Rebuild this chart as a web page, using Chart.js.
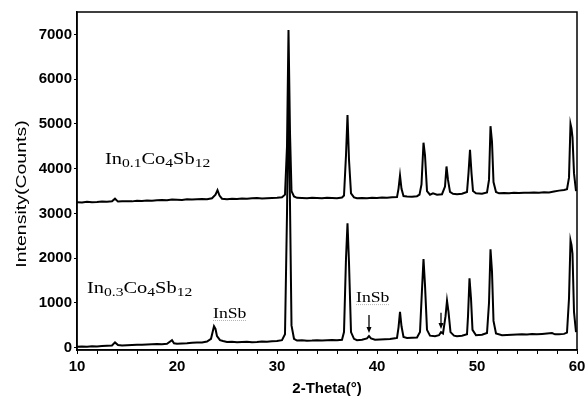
<!DOCTYPE html>
<html>
<head>
<meta charset="utf-8">
<script src="https://cdn.jsdelivr.net/npm/chart.js@4.4.1/dist/chart.umd.min.js"></script>
<style>
html,body{margin:0;padding:0;background:#fff;}
#wrap{width:586px;height:398px;position:relative;}
</style>
</head>
<body>
<div id="wrap"><canvas id="c"></canvas></div>
<script>
// ---- data ----
const thetaA = [10.0,10.5,11.0,11.5,12.0,12.5,13.0,13.5,13.8,14.1,14.5,15.0,15.5,16.0,16.5,17.0,17.5,18.0,18.5,19.0,19.5,20.0,20.5,21.0,21.5,22.0,22.5,23.0,23.5,23.85,24.05,24.25,24.5,25.0,25.5,26.0,26.5,27.0,27.5,28.0,28.5,29.0,29.5,30.0,30.5,30.8,31.0,31.15,31.3,31.45,31.7,32.0,32.5,33.0,33.5,34.0,34.5,35.0,35.5,36.0,36.5,36.7,36.9,37.05,37.2,37.4,37.7,38.0,38.5,39.0,39.5,40.0,40.5,41.0,41.5,42.0,42.15,42.3,42.45,42.65,43.0,43.5,44.0,44.25,44.45,44.65,44.8,45.0,45.3,45.6,46.0,46.5,46.8,46.95,47.1,47.3,47.6,48.0,48.5,49.0,49.15,49.3,49.45,49.6,49.9,50.5,51.0,51.2,51.35,51.5,51.65,51.9,52.2,52.7,53.2,53.7,54.2,54.7,55.2,55.7,56.2,56.7,57.2,57.7,58.2,58.7,59.0,59.2,59.35,59.45,59.55,59.7,59.9];
const countsA = [3250,3245,3260,3250,3255,3265,3260,3270,3330,3265,3270,3275,3270,3285,3280,3290,3285,3295,3300,3295,3310,3305,3300,3315,3310,3320,3325,3320,3340,3420,3520,3400,3330,3320,3330,3325,3335,3330,3340,3345,3335,3340,3345,3350,3360,3420,4500,7100,4800,3500,3380,3350,3345,3340,3350,3345,3340,3350,3345,3340,3355,3400,4300,5200,4200,3450,3360,3340,3345,3340,3350,3345,3355,3350,3360,3365,3550,3850,3550,3390,3380,3375,3385,3420,3650,4580,4300,3500,3420,3450,3420,3430,3600,4050,3750,3480,3440,3430,3440,3480,3900,4420,3900,3500,3450,3440,3470,3750,4950,4600,3700,3480,3450,3455,3450,3460,3455,3465,3460,3470,3465,3475,3470,3490,3510,3525,3540,3800,5000,4900,4700,3900,3500];
const thetaB = [10.0,10.5,11.0,11.5,12.0,12.5,13.0,13.5,13.8,14.1,14.5,15.0,15.5,16.0,16.5,17.0,17.5,18.0,18.5,19.0,19.5,19.7,20.0,20.5,21.0,21.5,22.0,22.5,23.0,23.4,23.7,23.85,24.0,24.3,24.6,25.0,25.5,26.0,26.5,27.0,27.5,28.0,28.5,29.0,29.5,30.0,30.5,30.8,31.0,31.15,31.3,31.45,31.7,32.0,32.5,33.0,33.5,34.0,34.5,35.0,35.5,36.0,36.5,36.7,36.9,37.05,37.2,37.4,37.7,38.0,38.5,39.0,39.2,39.4,39.8,40.3,40.8,41.3,41.8,42.0,42.15,42.3,42.45,42.65,43.0,43.5,44.0,44.3,44.5,44.65,44.8,45.0,45.3,45.8,46.2,46.4,46.6,46.85,47.0,47.15,47.35,47.7,48.0,48.5,49.0,49.1,49.25,49.4,49.55,49.9,50.5,51.0,51.2,51.35,51.5,51.65,51.9,52.5,53.0,53.5,54.0,54.5,55.0,55.5,56.0,56.5,57.0,57.5,57.8,58.2,58.7,59.0,59.2,59.35,59.45,59.55,59.7,59.9];
const countsB = [20,30,25,35,30,40,45,50,120,60,50,55,60,65,70,75,80,85,80,90,170,100,90,95,100,110,115,120,140,200,480,420,260,170,150,130,135,125,130,135,125,130,140,135,145,150,170,300,3000,5800,3200,500,200,160,165,155,160,170,165,170,175,170,180,350,2000,2780,1900,350,200,170,180,210,260,210,180,185,190,195,210,220,450,800,480,240,220,225,230,350,1300,1980,1400,400,270,260,280,350,320,700,1050,800,350,270,260,270,300,700,1550,1100,400,280,290,330,1000,2200,1700,600,320,280,285,290,295,300,295,305,300,310,320,330,300,300,310,340,1100,2400,2300,2100,800,350];
const xTicks = [10,12,14,16,18,20,22,24,26,28,30,32,34,36,38,40,42,44,46,48,50,52,54,56,58,60];
const yTicks = [0,1000,2000,3000,4000,5000,6000,7000];
const labelA = ['In','0.1','Co','4','Sb','12'];
const labelB = ['In','0.3','Co','4','Sb','12'];
const phaseLabel = 'InSb';
const phasePos = [[23.6,665],[37.9,1020]];
const arrowPos = [[39.2,730,330],[46.4,780,420]];
const labelAPos = [12.8,4105];
const labelBPos = [11.0,1230];
const xTitle = '2-Theta(°)';
const yTitle = 'Intensity(Counts)';

const toXY = (xs, ys) => xs.map((v,i)=>({x:v,y:ys[i]}));

function drawFormula(ctx, parts, px, py, mainSize, subSize, stretch){
  ctx.save();
  ctx.translate(px, py);
  ctx.scale(stretch, 1);
  ctx.fillStyle = '#000';
  ctx.textBaseline = 'alphabetic';
  ctx.textAlign = 'left';
  let cx = 0;
  parts.forEach((p,i)=>{
    const sub = i % 2 === 1;
    ctx.font = (sub ? subSize : mainSize) + 'px "Liberation Serif", "Times New Roman", serif';
    ctx.fillText(p, cx, sub ? 3.5 : 0);
    cx += ctx.measureText(p).width;
  });
  ctx.restore();
}

const annoPlugin = {
  id:'anno',
  afterDraw(chart){
    const {ctx, chartArea:a, scales:{x,y}} = chart;
    ctx.save();
    // frame
    ctx.strokeStyle = '#000';
    ctx.lineWidth = 1.5;
    ctx.strokeRect(a.left, a.top, a.right - a.left, a.bottom - a.top);
    // y axis title
    ctx.save();
    ctx.translate(22, (a.top + a.bottom) / 2 + 13);
    ctx.rotate(-Math.PI / 2);
    ctx.scale(1.3, 1);
    ctx.font = '15px "Liberation Sans", Arial, sans-serif';
    ctx.fillStyle = '#000';
    ctx.textAlign = 'center';
    ctx.textBaseline = 'middle';
    ctx.fillText(yTitle, 0, 0);
    ctx.restore();
    // formula labels
    drawFormula(ctx, labelA, x.getPixelForValue(labelAPos[0]), y.getPixelForValue(labelAPos[1]), 17, 13, 1.2);
    drawFormula(ctx, labelB, x.getPixelForValue(labelBPos[0]), y.getPixelForValue(labelBPos[1]), 17, 13, 1.2);
    // phase labels
    phasePos.forEach(p=>{
      const px = x.getPixelForValue(p[0]), py = y.getPixelForValue(p[1]);
      ctx.save();
      ctx.translate(px, py);
      ctx.scale(1.18,1);
      ctx.font = '15px "Liberation Serif", "Times New Roman", serif';
      ctx.fillStyle = '#000';
      ctx.textBaseline = 'alphabetic';
      ctx.fillText(phaseLabel, 0, 0);
      const w = ctx.measureText(phaseLabel).width;
      ctx.restore();
      ctx.save();
      ctx.strokeStyle = '#b5b5b5';
      ctx.lineWidth = 1;
      ctx.setLineDash([1,1]);
      ctx.beginPath();
      ctx.moveTo(px, py + 2.5);
      ctx.lineTo(px + w*1.18, py + 2.5);
      ctx.stroke();
      ctx.restore();
    });
    // arrows
    arrowPos.forEach(p=>{
      const px = x.getPixelForValue(p[0]);
      const y0 = y.getPixelForValue(p[1]), y1 = y.getPixelForValue(p[2]);
      ctx.strokeStyle = '#000';
      ctx.fillStyle = '#000';
      ctx.lineWidth = 1.3;
      ctx.beginPath();
      ctx.moveTo(px, y0);
      ctx.lineTo(px, y1 - 4);
      ctx.stroke();
      ctx.beginPath();
      ctx.moveTo(px - 2.5, y1 - 6);
      ctx.lineTo(px + 2.5, y1 - 6);
      ctx.lineTo(px, y1);
      ctx.closePath();
      ctx.fill();
    });
    ctx.restore();
  }
};

const tickFont = {family:'"Liberation Sans", Arial, sans-serif', size:15, weight:'bold'};

new Chart(document.getElementById('c'), {
  type:'line',
  data:{
    datasets:[
      {data:toXY(thetaA,countsA), borderColor:'#000', borderWidth:2, pointRadius:0, tension:0, fill:false},
      {data:toXY(thetaB,countsB), borderColor:'#000', borderWidth:2, pointRadius:0, tension:0, fill:false}
    ]
  },
  options:{
    responsive:true,
    maintainAspectRatio:false,
    animation:false,
    layout:{padding:{top:12,right:0,left:0,bottom:0}},
    plugins:{legend:{display:false},tooltip:{enabled:false}},
    scales:{
      x:{
        type:'linear', min:10, max:60,
        afterBuildTicks:(s)=>{ s.ticks = xTicks.map(v=>({value:v})); },
        afterFit:(s)=>{ s.height = 48; s.paddingLeft = 0; s.paddingRight = 9; },
        ticks:{autoSkip:false, maxRotation:0, color:'#000', font:tickFont, padding:4,
          callback:(v)=> (v % 10 === 0 ? String(v) : '')},
        grid:{drawOnChartArea:false, color:'#000', tickLength:4, lineWidth:1},
        border:{color:'#000', width:1.5},
        title:{display:true, text:xTitle, color:'#000', font:{family:'"Liberation Sans", Arial, sans-serif', size:15, weight:'bold'}, padding:{top:2,bottom:0}}
      },
      y:{
        type:'linear', min:-50, max:7500,
        afterBuildTicks:(s)=>{ s.ticks = yTicks.map(v=>({value:v})); },
        afterFit:(s)=>{ s.width = 77; s.paddingTop = 0; s.paddingBottom = 0; },
        ticks:{color:'#000', font:tickFont, padding:2, callback:(v)=>String(v)},
        grid:{drawOnChartArea:false, color:'#000', tickLength:3, lineWidth:1},
        border:{color:'#000', width:1.5},
        title:{display:false}
      }
    }
  },
  plugins:[annoPlugin]
});
</script>
</body>
</html>
